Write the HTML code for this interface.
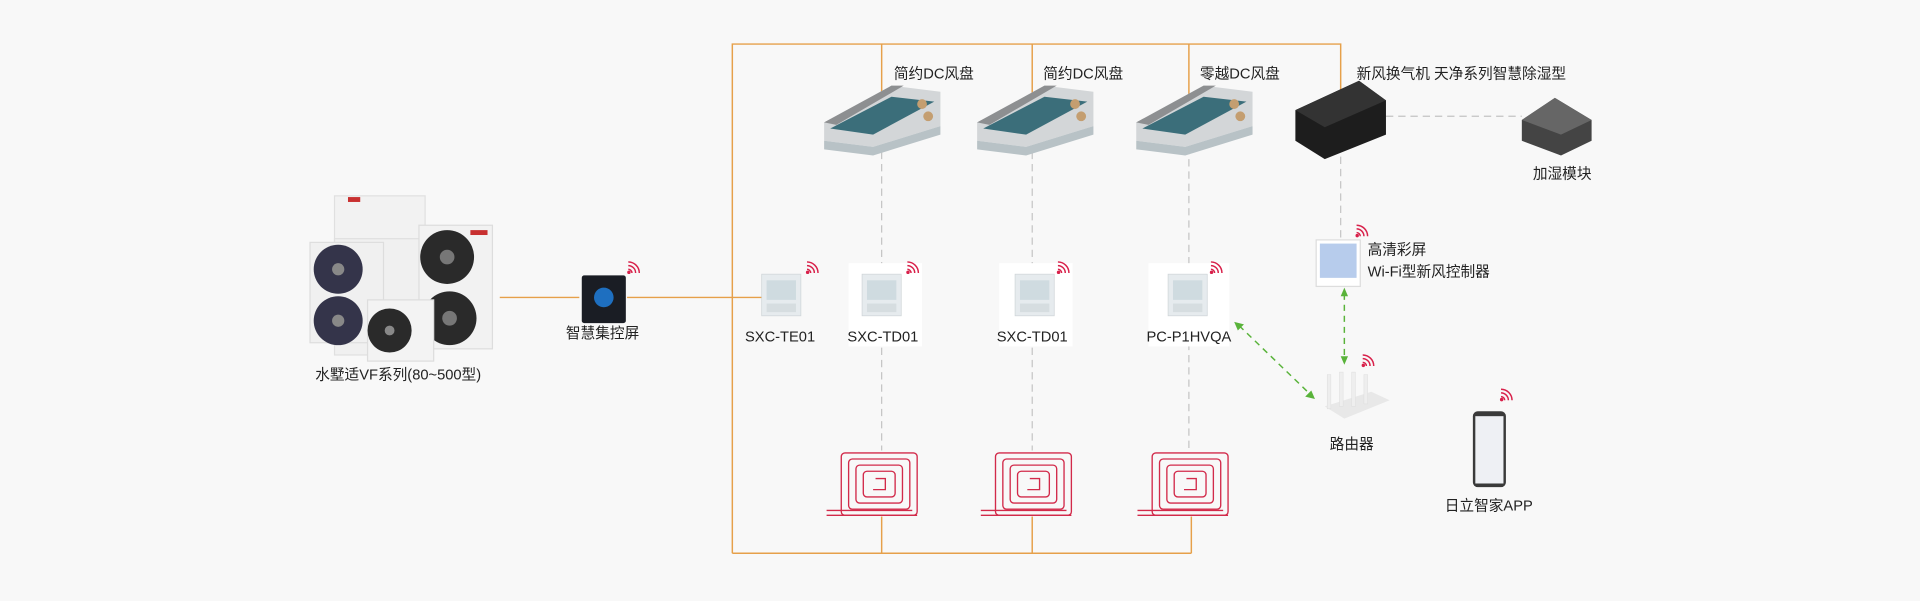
<!DOCTYPE html>
<html><head><meta charset="utf-8"><style>
html,body{margin:0;padding:0;background:#f8f8f8;}
svg{display:block;}
text{font-family:"Liberation Sans","Noto Sans CJK SC",sans-serif;font-size:12px;fill:#222;}
</style></head><body>
<svg width="1920" height="601" viewBox="0 0 1568 491" xmlns="http://www.w3.org/2000/svg">
<defs>
<g id="wifi" fill="none" stroke="#d8204a" stroke-width="1.2">
<path d="M0,0 a9,9 0 0 1 9,9"/><path d="M0,3 a6,6 0 0 1 6,6"/><path d="M0,6 a3,3 0 0 1 3,3"/><circle cx="0.5" cy="8.5" r="0.8" fill="#d8204a"/>
</g>
<g id="coil" fill="none" stroke="#d22a4a" stroke-width="1.1">
<rect x="0" y="0" width="62" height="51" rx="3"/>
<rect x="6" y="5" width="50" height="41" rx="3"/>
<rect x="12" y="10" width="38" height="31" rx="3"/>
<rect x="18" y="15" width="26" height="21" rx="3"/>
<path d="M-12,47 H58 M-12,51 H62"/>
<path d="M26,30 h10 v-9 h-8"/>
</g>
<g id="therm">
<rect x="0" y="0" width="32" height="34" fill="#e6ebee" stroke="#cfd5d8" stroke-width="0.6"/>
<rect x="4" y="5" width="24" height="16" fill="#cfdbe0"/>
<rect x="4" y="24" width="24" height="7" fill="#d6dde0"/>
</g>
<g id="fan">
<polygon points="0,35 55,5 95,10 95,38 40,55 0,50" fill="#d3d6d8"/>
<polygon points="0,35 55,5 65,5 10,37" fill="#8d8f91"/>
<polygon points="5,40 55,14 90,18 40,45" fill="#3b6e7a"/>
<polygon points="0,50 40,55 95,38 95,45 40,62 0,57" fill="#b8c2c6"/>
<circle cx="80" cy="20" r="4" fill="#c49e70"/><circle cx="85" cy="30" r="4" fill="#c49e70"/>
</g>
</defs>
<rect width="1568" height="491" fill="#f8f8f8"/>

<g stroke="#e6a04a" stroke-width="1.2" fill="none">
<path d="M598,452 V36 H1095 V85"/>
<path d="M720,36 V82 M843,36 V82 M971,36 V78"/>
<path d="M598,452 H973 M720,452 V422 M843,452 V422 M973,452 V422"/>
<path d="M408,243 H473 M512,243 H624"/>
</g>
<g stroke="#c4c4c4" stroke-width="1" stroke-dasharray="6,4" fill="none">
<path d="M720,124 V368 M843,124 V368 M971,120 V368 M1095,128 V195 M1132,95 H1243"/>
</g>
<g stroke="#59b33a" stroke-width="1.2" stroke-dasharray="5,4" fill="none">
<path d="M1098,240 V293"/><path d="M1012,266 L1070,322"/>
</g>
<g fill="#59b33a">
<polygon points="1098,235 1095,242 1101,242"/><polygon points="1098,298 1095,291 1101,291"/>
<polygon points="1008,263 1016,265 1011,270"/><polygon points="1074,326 1066,324 1071,319"/>
</g>

<rect x="273" y="160" width="74" height="40" fill="#f2f2f2" stroke="#e0e0e0"/>
<rect x="273" y="195" width="74" height="95" fill="#f0f0f0" stroke="#e0e0e0"/>
<rect x="284" y="161" width="10" height="4" fill="#c83030"/>
<rect x="342" y="184" width="60" height="101" fill="#f2f2f2" stroke="#ddd"/>
<rect x="384" y="188" width="14" height="4" fill="#c83030"/>
<circle cx="365" cy="210" r="22" fill="#2a2a2a"/><circle cx="365" cy="210" r="6" fill="#777"/>
<circle cx="367" cy="260" r="22" fill="#2a2a2a"/><circle cx="367" cy="260" r="6" fill="#777"/>
<rect x="253" y="198" width="60" height="82" fill="#f0f0f0" stroke="#ddd"/>
<circle cx="276" cy="220" r="20" fill="#34344a"/><circle cx="276" cy="220" r="5" fill="#888"/>
<circle cx="276" cy="262" r="20" fill="#34344a"/><circle cx="276" cy="262" r="5" fill="#888"/>
<rect x="300" y="245" width="54" height="50" fill="#f3f3f3" stroke="#ddd"/>
<circle cx="318" cy="270" r="18" fill="#2a2a2a"/><circle cx="318" cy="270" r="4" fill="#888"/>
<text x="325" y="310" text-anchor="middle">水墅适VF系列(80~500型)</text>

<rect x="475" y="225" width="36" height="39" rx="2" fill="#1a1d24"/>
<circle cx="493" cy="243" r="8" fill="#1e6fc0"/>
<use href="#wifi" x="513" y="214"/>
<text x="492" y="276" text-anchor="middle">智慧集控屏</text>

<use href="#therm" x="622" y="224"/><use href="#wifi" x="659" y="214"/>
<text x="637" y="279" text-anchor="middle">SXC-TE01</text>
<rect x="693" y="215" width="60" height="68" fill="#fff"/>
<use href="#therm" x="704" y="224"/><use href="#wifi" x="741" y="214"/>
<text x="721" y="279" text-anchor="middle">SXC-TD01</text>
<rect x="816" y="215" width="60" height="68" fill="#fff"/>
<use href="#therm" x="829" y="224"/><use href="#wifi" x="864" y="214"/>
<text x="843" y="279" text-anchor="middle">SXC-TD01</text>
<rect x="938" y="215" width="66" height="68" fill="#fff"/>
<use href="#therm" x="954" y="224"/><use href="#wifi" x="989" y="214"/>
<text x="971" y="279" text-anchor="middle">PC-P1HVQA</text>

<use href="#fan" x="673" y="65"/>
<text x="730" y="64">简约DC风盘</text>
<use href="#fan" x="798" y="65"/>
<text x="852" y="64">简约DC风盘</text>
<use href="#fan" x="928" y="65"/>
<text x="980" y="64">零越DC风盘</text>

<polygon points="1058,90 1110,66 1132,82 1132,110 1082,130 1058,115" fill="#1d1d1d"/>
<polygon points="1058,90 1110,66 1132,82 1082,104" fill="#333"/>
<text x="1108" y="64">新风换气机  天净系列智慧除湿型</text>
<polygon points="1243,98 1270,80 1300,98 1300,115 1275,127 1243,115" fill="#444"/>
<polygon points="1243,98 1270,80 1300,98 1275,110" fill="#666"/>
<text x="1252" y="146">加湿模块</text>

<rect x="1075" y="196" width="36" height="38" fill="#fff" stroke="#ddd"/>
<rect x="1078" y="199" width="30" height="28" fill="#b7ccec"/>
<use href="#wifi" x="1108" y="184"/>
<text x="1117" y="208">高清彩屏</text>
<text x="1117" y="226">Wi-Fi型新风控制器</text>

<polygon points="1082,332 1120,320 1135,327 1098,342" fill="#e8e8e8"/>
<rect x="1084" y="306" width="3" height="28" fill="#eee" stroke="#ddd" stroke-width="0.4"/>
<rect x="1094" y="304" width="3" height="28" fill="#eee" stroke="#ddd" stroke-width="0.4"/>
<rect x="1104" y="304" width="3" height="28" fill="#eee" stroke="#ddd" stroke-width="0.4"/>
<rect x="1114" y="306" width="3" height="24" fill="#eee" stroke="#ddd" stroke-width="0.4"/>
<use href="#wifi" x="1113" y="290"/>
<text x="1104" y="367" text-anchor="middle">路由器</text>

<rect x="1203" y="336" width="27" height="62" rx="4" fill="#3a3a3a"/>
<rect x="1205" y="340" width="23" height="55" fill="#eef0f4"/>
<use href="#wifi" x="1226" y="318"/>
<text x="1216" y="417" text-anchor="middle">日立智家APP</text>

<use href="#coil" x="687" y="370"/>
<use href="#coil" x="813" y="370"/>
<use href="#coil" x="941" y="370"/>
</svg>
</body></html>
